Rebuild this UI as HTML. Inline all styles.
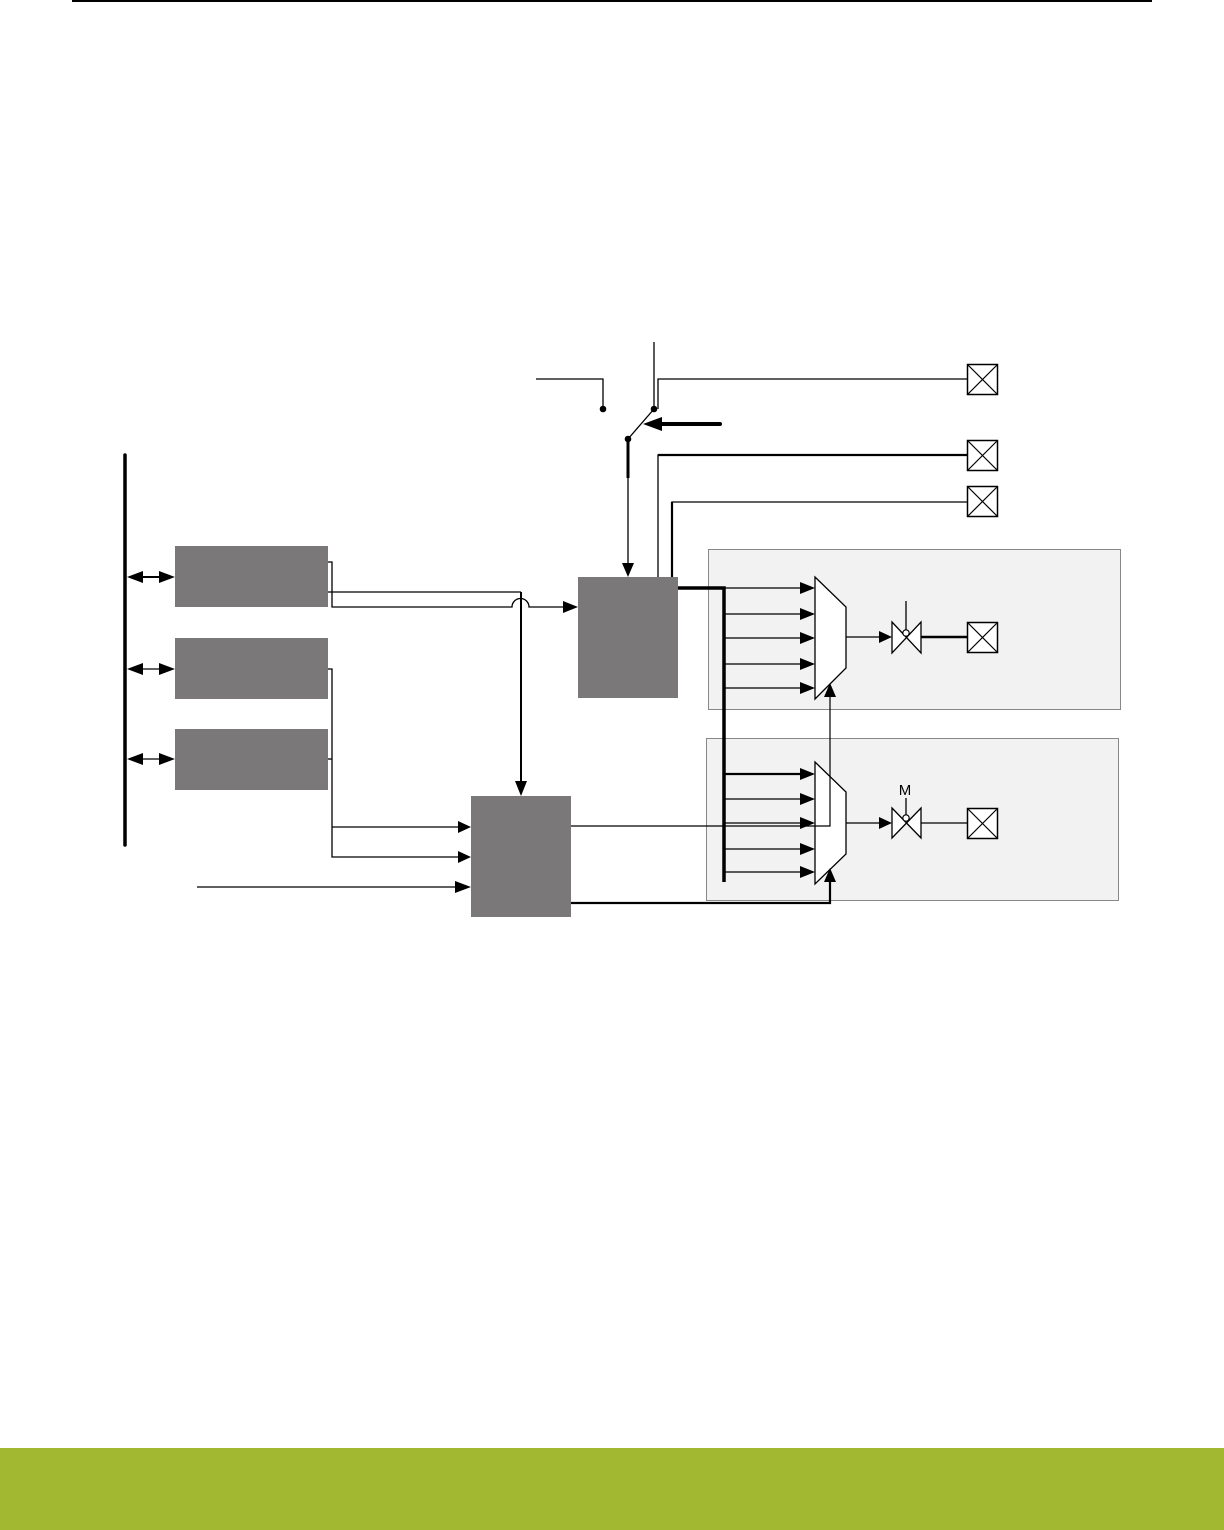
<!DOCTYPE html>
<html><head><meta charset="utf-8"><style>
html,body{margin:0;padding:0;background:#fff;}
svg{display:block;}
</style></head><body>
<svg width="1224" height="1530" viewBox="0 0 1224 1530" xmlns="http://www.w3.org/2000/svg" font-family="Liberation Sans, sans-serif">
<rect x="0" y="0" width="1224" height="1530" fill="#fff"/>
<line x1="72" y1="1" x2="1152" y2="1" stroke="#000" stroke-width="2"/>
<rect x="0" y="1448" width="1224" height="82" fill="#a2b830"/>

<!-- grey panels -->
<rect x="708.5" y="549.5" width="412" height="160" fill="#f2f2f2" stroke="#888" stroke-width="1"/>
<rect x="706.5" y="738.5" width="412" height="162" fill="#f2f2f2" stroke="#888" stroke-width="1"/>

<!-- vertical bus -->
<line x1="125" y1="455" x2="125" y2="845" stroke="#000" stroke-width="3.5" stroke-linecap="round"/>

<!-- blocks -->
<rect x="175" y="546" width="153" height="61" fill="#7a7879"/>
<rect x="175" y="638" width="153" height="61" fill="#7a7879"/>
<rect x="175" y="729" width="153" height="61" fill="#7a7879"/>
<rect x="578" y="577" width="100" height="121" fill="#7a7879"/>
<rect x="471" y="796" width="100" height="121" fill="#7a7879"/>

<!-- double arrows -->
<g fill="#000">
<line x1="140" y1="577" x2="162" y2="577" stroke="#000" stroke-width="2"/>
<path d="M127,577 L143,571 L143,583 Z"/><path d="M175,577 L159,571 L159,583 Z"/>
<line x1="140" y1="669" x2="162" y2="669" stroke="#000" stroke-width="1.2"/>
<path d="M127,669 L143,663 L143,675 Z"/><path d="M175,669 L159,663 L159,675 Z"/>
<line x1="140" y1="759" x2="162" y2="759" stroke="#000" stroke-width="1.2"/>
<path d="M127,759 L143,753 L143,765 Z"/><path d="M175,759 L159,753 L159,765 Z"/>
</g>

<!-- block1 connections -->
<g fill="none" stroke="#000" stroke-width="1.3">
<path d="M328,562 H332 V607 H512 A8.5,8.5 0 0 1 529,607 H565" />
<path d="M328,592 H521"/>
</g>
<line x1="521" y1="592" x2="521" y2="783" stroke="#000" stroke-width="2"/>
<path d="M578,607 L563,601 L563,613 Z" fill="#000"/>
<path d="M521,796 L515,781 L527,781 Z" fill="#000"/>

<!-- block2/3 connections -->
<g fill="none" stroke="#000" stroke-width="1.3">
<path d="M328,669 H332 V857 H458"/>
<path d="M328,759 H332"/>
<path d="M332,827 H458"/>
<path d="M197,887 H458"/>
</g>
<g fill="#000">
<path d="M471,827 L458,821 L458,833 Z"/>
<path d="M471,857 L458,851 L458,863 Z"/>
<path d="M471,887 L455,881 L455,893 Z"/>
</g>

<!-- top switch area -->
<g fill="none" stroke="#000" stroke-width="1.3">
<path d="M536,379 H603 V409"/>
<line x1="654" y1="342" x2="654" y2="409"/>
<path d="M658,409 V379 H967"/>
<line x1="628" y1="439" x2="654" y2="409"/>
<line x1="628" y1="478" x2="628" y2="565"/>
<path d="M658,577 V455 H967" />
<path d="M672,577 V502 H967"/>
</g>
<line x1="628" y1="439" x2="628" y2="478" stroke="#000" stroke-width="3"/>
<line x1="658" y1="455" x2="967" y2="455" stroke="#000" stroke-width="2.2"/>
<line x1="672" y1="577" x2="672" y2="502" stroke="#000" stroke-width="2.2"/>
<path d="M628,577 L622,563 L634,563 Z" fill="#000"/>
<circle cx="603" cy="409" r="3.3" fill="#000"/>
<circle cx="654" cy="409" r="3.3" fill="#000"/>
<circle cx="628" cy="439" r="3.3" fill="#000"/>
<line x1="655" y1="424" x2="720" y2="424" stroke="#000" stroke-width="4" stroke-linecap="round"/>
<path d="M643,424 L662,417 L662,431 Z" fill="#000"/>

<!-- pads -->
<g fill="#fff" stroke="#000" stroke-width="1.5">
<rect x="967.5" y="364.5" width="30" height="30"/>
<rect x="967.5" y="440.5" width="30" height="30"/>
<rect x="967.5" y="486.5" width="30" height="30"/>
<rect x="967.5" y="622.5" width="30" height="30"/>
<rect x="967.5" y="808.5" width="30" height="30"/>
</g>
<g stroke="#000" stroke-width="1.2">
<path d="M968,365 L997,394 M997,365 L968,394"/>
<path d="M968,441 L997,470 M997,441 L968,470"/>
<path d="M968,487 L997,516 M997,487 L968,516"/>
<path d="M968,623 L997,652 M997,623 L968,652"/>
<path d="M968,809 L997,838 M997,809 L968,838"/>
</g>

<!-- main bus -->
<path d="M678,588 H724 V882" fill="none" stroke="#000" stroke-width="3.5" stroke-linejoin="miter"/>

<!-- mux inputs -->
<g stroke="#000" stroke-width="1.3">
<line x1="724" y1="588" x2="802" y2="588"/>
<line x1="724" y1="614" x2="802" y2="614"/>
<line x1="724" y1="638" x2="802" y2="638"/>
<line x1="724" y1="664" x2="802" y2="664"/>
<line x1="724" y1="688" x2="802" y2="688"/>
<line x1="724" y1="774" x2="802" y2="774" stroke-width="2.2"/>
<line x1="724" y1="799" x2="802" y2="799"/>
<line x1="724" y1="823" x2="802" y2="823"/>
<line x1="724" y1="849" x2="802" y2="849"/>
<line x1="724" y1="872" x2="802" y2="872"/>
</g>
<g fill="#000">
<path d="M815,588 L800,582 L800,594 Z"/>
<path d="M815,614 L800,608 L800,620 Z"/>
<path d="M815,638 L800,632 L800,644 Z"/>
<path d="M815,664 L800,658 L800,670 Z"/>
<path d="M815,688 L800,682 L800,694 Z"/>
<path d="M815,774 L800,768 L800,780 Z"/>
<path d="M815,799 L800,793 L800,805 Z"/>
<path d="M815,823 L800,817 L800,829 Z"/>
<path d="M815,849 L800,843 L800,855 Z"/>
<path d="M815,872 L800,866 L800,878 Z"/>
</g>

<!-- muxes -->
<path d="M815,577 L846,607 L846,668 L815,699 Z" fill="#fff" stroke="#000" stroke-width="1.3"/>
<path d="M815,762 L846,792 L846,854 L815,884 Z" fill="#fff" stroke="#000" stroke-width="1.3"/>

<!-- select lines from block3 -->
<path d="M571,826 H830 V697" fill="none" stroke="#000" stroke-width="1.2"/>
<path d="M830,683 L824,697 L836,697 Z" fill="#000"/>
<path d="M571,903 H830 V882" fill="none" stroke="#000" stroke-width="2.2"/>
<path d="M830,868 L824,882 L836,882 Z" fill="#000"/>

<!-- mux outputs and transmission gates -->
<g stroke="#000" stroke-width="1.3" fill="none">
<line x1="846" y1="637" x2="880" y2="637"/>
<line x1="846" y1="823" x2="880" y2="823"/>
<path d="M892,622 L921,653 L921,622 L892,653 Z" fill="#fff"/>
<path d="M892,808 L921,838 L921,808 L892,838 Z" fill="#fff"/>
<line x1="906" y1="601" x2="906" y2="630"/>
<line x1="906" y1="798" x2="906" y2="815"/>
<line x1="921" y1="823" x2="967" y2="823"/>
</g>
<line x1="921" y1="637" x2="967" y2="637" stroke="#000" stroke-width="2.5"/>
<circle cx="906" cy="633" r="3.2" fill="#fff" stroke="#000" stroke-width="1.2"/>
<circle cx="906" cy="818" r="3.2" fill="#fff" stroke="#000" stroke-width="1.2"/>
<path d="M892,637 L879,631 L879,643 Z" fill="#000"/>
<path d="M892,823 L879,817 L879,829 Z" fill="#000"/>
<text x="905" y="795" font-size="15" text-anchor="middle" fill="#000">M</text>
</svg>
</body></html>
